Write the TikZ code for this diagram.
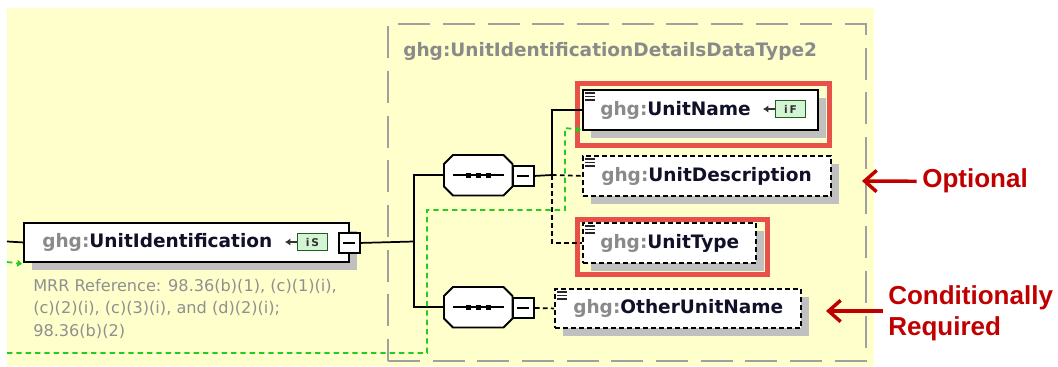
\documentclass[tikz,border=0pt]{standalone}
\usepackage{fontspec}
\setmainfont{DejaVu Sans}
\newfontfamily\arialfont{Liberation Sans}
\usetikzlibrary{arrows.meta,shadows,calc}

\definecolor{bgyellow}{HTML}{FFFFCC}
\definecolor{shgray}{HTML}{C0C0C0}
\definecolor{framegray}{HTML}{A0A0A0}
\definecolor{ghggray}{HTML}{8A8A8A}
\definecolor{namecol}{HTML}{101028}
\definecolor{hlred}{HTML}{E8504A}
\definecolor{annred}{HTML}{C00000}
\definecolor{greenl}{HTML}{22CC22}
\definecolor{icongreen}{HTML}{D4F5D4}
\definecolor{iconborder}{HTML}{206020}
\definecolor{mrrgray}{HTML}{909090}

\def\pxu{0.75pt}
\newcommand\ghgname[1]{\textcolor{ghggray}{ghg:}\textcolor{namecol}{#1}}

\tikzset{
  elem/.style={draw=black, fill=white, line width=1.4pt, rectangle, inner sep=0pt,
    anchor=north west, general shadow={fill=shgray, shadow xshift=6pt, shadow yshift=-6pt}},
  optelem/.style={elem, dash pattern=on 3.5pt off 2.5pt},
  comp/.style={inner sep=0pt, anchor=north west, minimum width=68*\pxu, minimum height=40*\pxu},
  minusbox/.style={draw=black, fill=white, line width=1.4pt, anchor=north west, inner sep=0pt,
    minimum width=21*\pxu, minimum height=20*\pxu},
  conn/.style={draw=black, line width=1.3pt},
  dconn/.style={conn, dash pattern=on 3.5pt off 2.5pt},
  hlbox/.style={draw=hlred, line width=3.75pt, anchor=north west, inner sep=0pt},
  gline/.style={draw=greenl, line width=1.3pt, dash pattern=on 4pt off 3pt},
  gtip/.style={-{Triangle[length=3.5pt,width=5pt]}},
  nametxt/.style={anchor=base west, inner sep=0pt, font=\fontsize{13.9pt}{16pt}\bfseries\selectfont},
  mrrtxt/.style={anchor=base west, inner sep=0pt, text=mrrgray, font=\fontsize{12.1pt}{16pt}\selectfont},
  annot/.style={text=annred, font=\arialfont\fontsize{19.5pt}{22.5pt}\bfseries\selectfont, inner sep=0pt},
  annarrow/.style={draw=annred, line width=2.6pt, -{Straight Barb[length=9pt,width=16pt]}},
  iconbox/.style={draw=iconborder, fill=icongreen, line width=0.8pt, anchor=north west, inner sep=0pt,
    font=\fontsize{8pt}{8pt}\bfseries\selectfont, text=black!80},
  iconarrow/.style={draw=black!80, line width=1.8pt, -{Latex[length=4pt,width=5.5pt]}},
  lines/.style={draw=black!85, line width=1.1pt},
}

\newcommand\textlines[1]{%
  \draw[lines] ($(#1.north west)+(3,4)$) -- ++(10,0);
  \draw[lines] ($(#1.north west)+(3,7.5)$) -- ++(10,0);
  \draw[lines] ($(#1.north west)+(3,11)$) -- ++(10,0);
}
\newcommand\octpath[1]{%
  ($(#1.north west)+(9,0)$) -- ($(#1.north east)+(-9,0)$) -- ($(#1.north east)+(0,9)$) --
  ($(#1.south east)+(0,-9)$) -- ($(#1.south east)+(-9,0)$) -- ($(#1.south west)+(9,0)$) --
  ($(#1.south west)+(0,-9)$) -- ($(#1.north west)+(0,9)$) -- cycle}
\newcommand\seqshape[1]{%
  \fill[shgray, shift={(8,8)}] \octpath{#1};
  \filldraw[fill=white, draw=black, line width=1.4pt] \octpath{#1};
  \draw[conn] ($(#1.west)+(9,0)$) -- ($(#1.east)+(-9,0)$);
  \fill[black] ($(#1.center)+(-12.5,-2.5)$) rectangle ++(5,5);
  \fill[black] ($(#1.center)+(-2.5,-2.5)$) rectangle ++(5,5);
  \fill[black] ($(#1.center)+(7.5,-2.5)$) rectangle ++(5,5);
}
\newcommand\minusline[1]{%
  \draw[line width=1.2pt] ($(#1.center)+(-6,0)$) -- ($(#1.center)+(6,0)$);
}

\begin{document}
\begin{tikzpicture}[x=0.75pt,y=-0.75pt]
\useasboundingbox (0,0) rectangle (1058,367);
\fill[bgyellow] (7,8) rectangle (874,366);

% frame of the complex type
\node[draw=framegray, line width=1.5pt, dash pattern=on 24pt off 9.5pt, anchor=north west,
  inner sep=0pt, minimum width=478*\pxu, minimum height=337*\pxu] (frame) at (387,23) {};
\node[nametxt, text=ghggray] (frameT) at (403,57) {ghg:UnitIdentificationDetailsDataType2};

% green dashed lines
\coordinate (g1s) at (7,262);
\coordinate (g2s) at (7,353);

% red highlights
\node[hlbox, minimum width=252*\pxu, minimum height=62.5*\pxu] (hl1) at (574.5,81) {};
\node[hlbox, minimum width=190*\pxu, minimum height=55*\pxu] (hl2) at (574.5,217.5) {};

% UnitIdentification
\node[elem, minimum width=325*\pxu, minimum height=39*\pxu] (ui) at (23,222) {};
\node[nametxt] (uiT) at (42,247.5) {\ghgname{UnitIdentification}};
\node[iconbox, minimum width=30*\pxu, minimum height=17*\pxu] (uiI) at (297,233) {i\,S};
\node[minusbox] (uim) at (338,232) {};
\minusline{uim}
\draw[iconarrow] (uiI.west) -- ++(-12,0);
\node[mrrtxt] (mrr1) at (33,292) {MRR Reference: 98.36(b)(1), (c)(1)(i),};
\node[mrrtxt] (mrr2) at (33,314) {(c)(2)(i), (c)(3)(i), and (d)(2)(i);};
\node[mrrtxt] (mrr3) at (33,336) {98.36(b)(2)};

% compositors
\node[comp] (s1) at (444,155) {};
\seqshape{s1}
\node[minusbox] (s1m) at (512,165) {};
\minusline{s1m}
\node[comp] (s2) at (444,287) {};
\seqshape{s2}
\node[minusbox] (s2m) at (512,297) {};
\minusline{s2m}

% child elements
\node[elem, minimum width=235*\pxu, minimum height=40*\pxu] (un) at (582,89) {};
\node[nametxt] (unT) at (600,115.5) {\ghgname{UnitName}};
\node[iconbox, minimum width=30*\pxu, minimum height=17*\pxu] (unI) at (775,100) {i\,F};
\draw[iconarrow] (unI.west) -- ++(-12,0);
\textlines{un}

\node[optelem, minimum width=248*\pxu, minimum height=40*\pxu] (ud) at (582,155) {};
\node[nametxt] (udT) at (601,181.5) {\ghgname{UnitDescription}};
\textlines{ud}

\node[optelem, minimum width=173*\pxu, minimum height=40*\pxu] (ut) at (582,222) {};
\node[nametxt] (utT) at (600,248.5) {\ghgname{UnitType}};
\textlines{ut}

\node[optelem, minimum width=246*\pxu, minimum height=39*\pxu] (ou) at (554,288) {};
\node[nametxt] (ouT) at (573,314) {\ghgname{OtherUnitName}};
\textlines{ou}

% connectors
\coordinate (lin) at (7,241.5);
\coordinate (j1) at (414,241.5);
\coordinate (j2) at (552,175);
\draw[conn] (lin) -- (ui.west);
\draw[conn] (uim.east) -- (j1);
\draw[conn] (j1) |- (s1.west);
\draw[conn] (j1) |- (s2.west);
\draw[conn] (s1m.east) -- (j2);
\draw[conn] (j2) |- (un.west);
\draw[dconn] (j2) -- (ud.west);
\draw[dconn] (j2) |- (ut.west);
\draw[dconn] (s2m.east) -- (ou.west);

% green dashed links
\draw[gline, gtip] (g1s) -- ($(ui.south west)+(-1,1)$);
\draw[gline, gtip] (g2s) -- (427,353) -- (427,210) -- (565,210) -- (565,128) -- ($(un.south west)+(-1,-1)$);

% annotations
\node[annot, anchor=base west] (opt) at (922,188) {Optional};
\node[annot, anchor=base west] (cr1) at (888,305) {Conditionally};
\node[annot, anchor=base west] (cr2) at (888,335) {Required};
\coordinate (optTip) at (862,181);
\coordinate (crTip) at (826,311);
\draw[annarrow] ([xshift=-4pt]opt.west) -- (optTip);
\draw[annarrow] ([xshift=-4pt]cr1.south west |- crTip) -- (crTip);
\end{tikzpicture}
\end{document}
